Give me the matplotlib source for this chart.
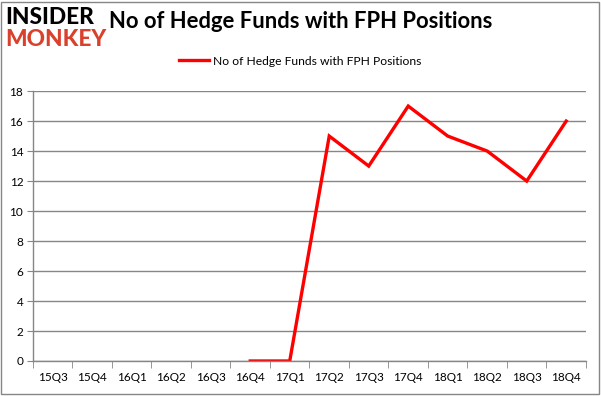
import numpy as np
import matplotlib
matplotlib.use("Agg")
import matplotlib.pyplot as plt
from matplotlib.patches import Rectangle

quarters = ["15Q3", "15Q4", "16Q1", "16Q2", "16Q3", "16Q4", "17Q1",
            "17Q2", "17Q3", "17Q4", "18Q1", "18Q2", "18Q3", "18Q4"]
# no data before 16Q4
funds = [np.nan, np.nan, np.nan, np.nan, np.nan, 0, 0,
         15, 13, 17, 15, 14, 12, 16]
y_ticks = [0, 2, 4, 6, 8, 10, 12, 14, 16, 18]

plt.rcParams['font.family'] = ['Lato', 'DejaVu Sans']

fig = plt.figure(figsize=(6.01, 3.96), dpi=100)
ax = fig.add_axes([0.0549, 0.0884, 0.9201, 0.6816])

x = np.arange(len(quarters))
ax.plot(x, funds, color='#ff0000', lw=2.4, solid_joinstyle='miter',
        label='No of Hedge Funds with FPH Positions')

ax.set_xlim(-0.5, len(quarters) - 0.5)
ax.set_ylim(0, 18)
ax.set_yticks(y_ticks)
ax.set_yticklabels([str(v) for v in y_ticks], fontsize=8.5)
ax.set_xticks(x)
ax.set_xticklabels(quarters, fontsize=8.5)
ax.set_xticks(np.arange(len(quarters) + 1) - 0.5, minor=True)
ax.tick_params(axis='x', which='major', length=0, pad=8)
ax.tick_params(axis='x', which='minor', length=5, color='#868686')
ax.tick_params(axis='y', length=4, color='#868686', pad=3)

ax.grid(axis='y', color='#868686', lw=1)
ax.set_axisbelow(True)
for s in ['top', 'right']:
    ax.spines[s].set_visible(False)
for s in ['left', 'bottom']:
    ax.spines[s].set_color('#868686')
    ax.spines[s].set_linewidth(1)

ax.legend(loc='lower center', bbox_to_anchor=(0.483, 1.05), frameon=False,
          fontsize=8.7, handlelength=2.5, handletextpad=0.3)

fig.text(0.5, 0.945, 'No of Hedge Funds with FPH Positions', ha='center',
         va='center', fontsize=15.8, fontweight='bold')
fig.text(0.008, 0.957, 'INSIDER', ha='left', va='center', fontsize=16.3,
         fontweight='black', color='black')
fig.text(0.008, 0.90, 'MONKEY', ha='left', va='center', fontsize=16.3,
         fontweight='black', color='#d9412c')

fig.patches.append(Rectangle((0.002, 0.006), 0.994, 0.99, transform=fig.transFigure,
                             fill=False, edgecolor='#868686', lw=1))

fig.savefig('out.png', dpi=100)
